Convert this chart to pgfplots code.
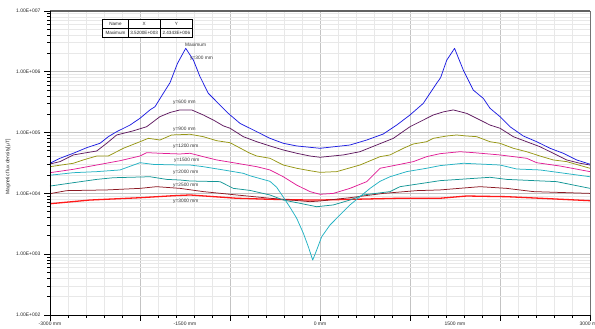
\documentclass[border=0pt]{standalone}
\usepackage{fontspec}
\setmainfont{Liberation Sans}
\usepackage{pgfplots}
\pgfplotsset{compat=1.18}
\definecolor{cBlue}{RGB}{30,30,225}
\definecolor{cPurple}{RGB}{95,25,95}
\definecolor{cOlive}{RGB}{150,150,20}
\definecolor{cPink}{RGB}{225,30,150}
\definecolor{cCyan}{RGB}{35,178,195}
\definecolor{cTeal}{RGB}{20,150,150}
\definecolor{cDRed}{RGB}{140,25,35}
\definecolor{cRed}{RGB}{255,25,25}
\definecolor{gMaj}{RGB}{195,195,195}
\definecolor{gMin}{RGB}{232,232,232}
\begin{document}
\begin{tikzpicture}[x=1pt,y=1pt]
\begin{axis}[
 at={(50pt,14pt)}, anchor=south west,
 scale only axis, width=540pt, height=304pt,
 xmin=-3000, xmax=3000, ymin=1e2, ymax=1e7, ymode=log,
 xtick={-3000,-2000,...,3000}, xticklabels={},
 minor x tick num=4,
 extra x ticks={-3000,-1500,0,1500,3000},
 extra x tick labels={-3000 mm,-1500 mm,0 mm,1500 mm,3000 mm},
 extra x tick style={grid=none, major tick length=0pt, xticklabel style={yshift=-3pt}},
 ytick={1e2,1e3,1e4,1e5,1e6,1e7},
 yticklabels={1.00E+002,1.00E+003,1.00E+004,1.00E+005,1.00E+006,1.00E+007},
 grid=both,
 major grid style={draw=gMaj, line width=0.7pt},
 minor grid style={draw=gMin, line width=0.7pt},
 tick align=outside, tick pos=left,
 major tick length=6pt, minor tick length=3pt,
 tick style={black, line width=0.8pt},
 ticklabel style={font=\fontsize{5}{6}\selectfont, text=black!85},
 axis line style={draw=none},
 clip=false,
 every axis plot/.append style={no markers, line width=0.75pt, line join=round},
]
\addplot[cRed, line width=1.3pt] coordinates {(-3000,6.76e3) (-2556,7.78e3) (-2000,8.49e3) (-1630,9.16e3) (-1444,9.42e3) (-926,8.32e3) (-556,8.0e3) (-111,7.78e3) (0,7.78e3) (519,8.09e3) (889,8.32e3) (1333,8.32e3) (1630,9.06e3) (2074,8.83e3) (2444,8.32e3) (3000,7.59e3)};
\addplot[cDRed] coordinates {(-3000,9.9e3) (-2815,1.11e4) (-2370,1.14e4) (-2000,1.21e4) (-1815,1.29e4) (-1556,1.21e4) (-1297,1.07e4) (-926,9.42e3) (-556,8.32e3) (-111,7.31e3) (0,7.5e3) (333,8.5e3) (703,1.0e4) (1074,1.11e4) (1333,1.14e4) (1778,1.29e4) (2074,1.21e4) (2370,1.07e4) (3000,1.0e4)};
\addplot[cTeal] coordinates {(-3000,1.32e4) (-2741,1.5e4) (-2481,1.70e4) (-2296,1.81e4) (-1889,1.88e4) (-1704,1.70e4) (-1556,1.66e4) (-1444,1.60e4) (-1111,1.56e4) (-963,1.21e4) (-778,1.12e4) (-556,9.42e3) (-408,7.78e3) (-222,6.87e3) (-37,6.04e3) (148,6.46e3) (333,7.78e3) (481,9.42e3) (778,1.07e4) (889,1.29e4) (1185,1.5e4) (1333,1.62e4) (1889,1.84e4) (2074,1.70e4) (2630,1.56e4) (3000,1.21e4)};
\addplot[cCyan] coordinates {(-3000,1.99e4) (-2741,2.19e4) (-2481,2.28e4) (-2222,2.43e4) (-2000,3.2e4) (-1852,3.0e4) (-1556,2.93e4) (-1444,2.93e4) (-1297,2.75e4) (-1074,2.43e4) (-852,2.14e4) (-778,1.95e4) (-556,1.58e4) (-481,1.26e4) (-408,8.7e3) (-333,5.9e3) (-259,3.9e3) (-185,2.21e3) (-130,1.33e3) (-81,8.0e2) (-37,1.17e3) (19,1.94e3) (111,3.02e3) (222,4.42e3) (333,6.46e3) (444,8.83e3) (556,1.21e4) (667,1.58e4) (778,1.88e4) (963,2.28e4) (1185,2.59e4) (1333,2.86e4) (1593,3.13e4) (2000,2.93e4) (2185,2.52e4) (2444,2.43e4) (3000,1.88e4)};
\addplot[cPink] coordinates {(-3000,2.19e4) (-2741,2.49e4) (-2481,2.93e4) (-2222,3.45e4) (-2000,4.12e4) (-1926,4.68e4) (-1778,4.57e4) (-1556,4.45e4) (-1444,4.57e4) (-1297,4.02e4) (-1148,3.55e4) (-926,3.13e4) (-703,2.75e4) (-556,2.43e4) (-408,1.88e4) (-259,1.37e4) (-111,1.07e4) (0,9.66e3) (148,1.0e4) (333,1.21e4) (519,1.56e4) (667,2.59e4) (852,2.93e4) (1037,3.33e4) (1185,4.02e4) (1333,4.5e4) (1556,4.85e4) (1704,4.68e4) (2000,4.29e4) (2296,3.78e4) (2407,3.2e4) (2667,2.82e4) (3000,2.28e4)};
\addplot[cOlive] coordinates {(-3000,2.75e4) (-2741,3.13e4) (-2630,3.55e4) (-2481,4.12e4) (-2352,4.12e4) (-2185,5.52e4) (-2000,7.08e4) (-1907,8.05e4) (-1778,7.55e4) (-1648,9.14e4) (-1444,9.38e4) (-1297,8.57e4) (-1148,7.36e4) (-1000,6.82e4) (-778,4.57e4) (-703,4.12e4) (-556,3.78e4) (-408,2.93e4) (-259,2.59e4) (-111,2.36e4) (0,2.22e4) (185,2.28e4) (444,2.93e4) (667,4.02e4) (778,4.29e4) (926,5.52e4) (1037,6.5e4) (1185,7.08e4) (1259,8.05e4) (1407,8.79e4) (1519,9.14e4) (1630,8.79e4) (1741,8.57e4) (1889,7.08e4) (2000,6.67e4) (2148,5.52e4) (2296,4.85e4) (2444,4.12e4) (2592,3.55e4) (2741,3.33e4) (3000,2.59e4)};
\addplot[cPurple] coordinates {(-3000,3.05e4) (-2889,3.33e4) (-2741,4.29e4) (-2592,4.68e4) (-2481,4.98e4) (-2370,6.67e4) (-2259,9.14e4) (-2074,1.07e5) (-1926,1.25e5) (-1778,1.83e5) (-1667,2.14e5) (-1556,2.36e5) (-1426,2.36e5) (-1297,1.95e5) (-1185,1.61e5) (-1074,1.29e5) (-1000,1.18e5) (-852,8.57e4) (-703,7.08e4) (-556,6.03e4) (-408,5.18e4) (-259,4.57e4) (-111,4.12e4) (0,3.93e4) (259,4.29e4) (444,4.85e4) (630,6.25e4) (815,8.05e4) (1000,1.25e5) (1148,1.61e5) (1259,1.95e5) (1370,2.19e5) (1481,2.36e5) (1630,2.07e5) (1778,1.61e5) (1889,1.33e5) (2000,1.18e5) (2148,8.57e4) (2296,7.08e4) (2444,5.86e4) (2592,4.57e4) (2741,3.55e4) (2889,3.13e4) (3000,2.93e4)};
\addplot[cBlue] coordinates {(-3000,3.13e4) (-2889,3.78e4) (-2741,4.57e4) (-2592,5.65e4) (-2444,6.67e4) (-2352,8.57e4) (-2259,1.035e5) (-2111,1.33e5) (-2000,1.72e5) (-1889,2.36e5) (-1833,2.67e5) (-1741,4.43e5) (-1667,6.6e5) (-1583,1.38e6) (-1492,2.4343e6) (-1407,1.56e6) (-1333,8.3e5) (-1241,4.43e5) (-1148,3.22e5) (-1019,2.07e5) (-889,1.42e5) (-703,1.035e5) (-556,8.05e4) (-408,6.67e4) (-259,6.03e4) (-111,5.73e4) (0,5.52e4) (333,6.25e4) (519,7.55e4) (703,9.48e4) (852,1.33e5) (1000,1.95e5) (1148,3.03e5) (1297,6.5e5) (1340,8.0e5) (1408,1.55e6) (1495,2.43e6) (1592,1.07e6) (1703,5.0e5) (1814,3.66e5) (1889,2.51e5) (2000,1.83e5) (2111,1.25e5) (2259,8.79e4) (2408,7.08e4) (2556,5.52e4) (2703,4.57e4) (2852,3.55e4) (3000,3.02e4)};
\draw[black!62, line width=1.8pt] (rel axis cs:0,1) -- (rel axis cs:1,1);
\draw[black!55, line width=1pt] (rel axis cs:1,0) -- (rel axis cs:1,1);
\draw[black, line width=0.9pt] (rel axis cs:0,1) -- (rel axis cs:0,0) -- (rel axis cs:1,0);
\begin{scope}[every node/.style={anchor=west, inner sep=0pt, font=\fontsize{4.8}{5}\selectfont, text=black!80}]
\node at (rel axis cs:0.2500,0.888) {Maximum};
\node at (rel axis cs:0.2593,0.8454) {y=300 mm};
\node at (rel axis cs:0.2278,0.7007) {y=600 mm};
\node at (rel axis cs:0.2278,0.6118) {y=900 mm};
\node at (rel axis cs:0.2278,0.5559) {y=1200 mm};
\node at (rel axis cs:0.2296,0.5099) {y=1500 mm};
\node at (rel axis cs:0.2278,0.4704) {y=2000 mm};
\node at (rel axis cs:0.2278,0.4276) {y=2500 mm};
\node at (rel axis cs:0.2278,0.3750) {y=3000 mm};
\end{scope}
\end{axis}
\node[rotate=90, font=\fontsize{5}{6}\selectfont, text=black!85] at (8,162) {Magnetic flux density[µT]};
\draw[line width=0.7pt, fill=white] (102.7,291.7) rectangle (192.7,309.7);
\draw[line width=0.7pt] (102.7,300.7) -- (192.7,300.7);
\draw[line width=0.7pt] (128.3,291.7) -- (128.3,309.7);
\draw[line width=0.7pt] (160,291.7) -- (160,309.7);
\begin{scope}[every node/.style={inner sep=0pt, font=\fontsize{4.6}{5}\selectfont, text=black!85}]
\node at (115.5,305.2) {Name};
\node at (144.15,305.2) {X};
\node at (176.35,305.2) {Y};
\node at (115.5,296.2) {Maximum};
\node at (144.15,296.2) {3.5200E+003};
\node at (176.35,296.2) {2.4343E+006};
\end{scope}
\pgfresetboundingbox
\path[use as bounding box] (0,0) rectangle (595,329);
\end{tikzpicture}
\end{document}
